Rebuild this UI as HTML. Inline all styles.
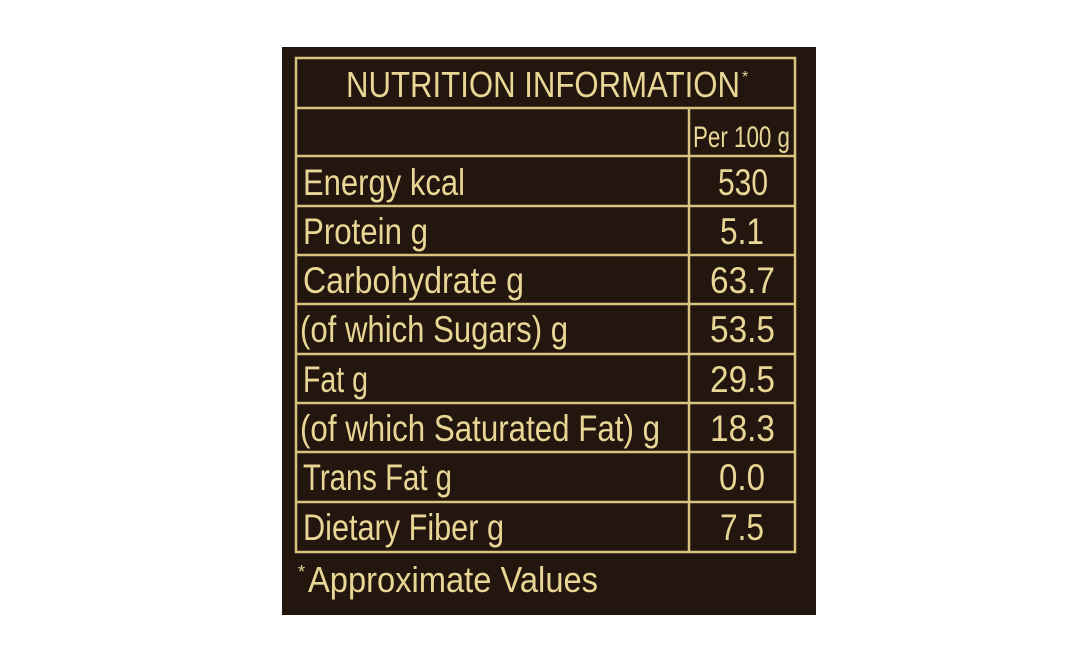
<!DOCTYPE html>
<html><head><style>
html,body{margin:0;padding:0;background:#fff;width:1068px;height:671px;overflow:hidden}
svg{display:block}
text{font-family:"Liberation Sans",sans-serif;fill:#e8d695}
</style></head><body>
<svg width="1068" height="671" viewBox="0 0 1068 671">
<rect x="282" y="47" width="534" height="568" fill="#23160f"/>
<g stroke="#d8c47e" stroke-width="2.5" fill="none">
<rect x="296" y="58" width="499" height="494"/>
<line x1="296" y1="108" x2="795" y2="108"/>
<line x1="296" y1="156" x2="795" y2="156"/>
<line x1="296" y1="206" x2="795" y2="206"/>
<line x1="296" y1="255" x2="795" y2="255"/>
<line x1="296" y1="304" x2="795" y2="304"/>
<line x1="296" y1="354" x2="795" y2="354"/>
<line x1="296" y1="403" x2="795" y2="403"/>
<line x1="296" y1="452" x2="795" y2="452"/>
<line x1="296" y1="502" x2="795" y2="502"/>
<line x1="689" y1="108" x2="689" y2="552"/>
</g>
<text x="346" y="97" font-size="36" textLength="394" lengthAdjust="spacingAndGlyphs">NUTRITION INFORMATION</text>
<text x="742" y="82" font-size="16">*</text>
<text x="693" y="147" font-size="30" textLength="97" lengthAdjust="spacingAndGlyphs">Per 100 g</text>
<g font-size="37">
<text x="303" y="195" textLength="162" lengthAdjust="spacingAndGlyphs">Energy kcal</text>
<text x="303" y="244" textLength="125" lengthAdjust="spacingAndGlyphs">Protein g</text>
<text x="303" y="293" textLength="221" lengthAdjust="spacingAndGlyphs">Carbohydrate g</text>
<text x="300" y="342" textLength="268" lengthAdjust="spacingAndGlyphs">(of which Sugars) g</text>
<text x="303" y="392" textLength="65" lengthAdjust="spacingAndGlyphs">Fat g</text>
<text x="300" y="441" textLength="360" lengthAdjust="spacingAndGlyphs">(of which Saturated Fat) g</text>
<text x="303" y="490" textLength="149" lengthAdjust="spacingAndGlyphs">Trans Fat g</text>
<text x="303" y="540" textLength="201" lengthAdjust="spacingAndGlyphs">Dietary Fiber g</text>
</g>
<g font-size="37">
<text x="718" y="195" textLength="50" lengthAdjust="spacingAndGlyphs">530</text>
<text x="720" y="244" textLength="44" lengthAdjust="spacingAndGlyphs">5.1</text>
<text x="710" y="293" textLength="65" lengthAdjust="spacingAndGlyphs">63.7</text>
<text x="710" y="342" textLength="65" lengthAdjust="spacingAndGlyphs">53.5</text>
<text x="710" y="392" textLength="65" lengthAdjust="spacingAndGlyphs">29.5</text>
<text x="710" y="441" textLength="65" lengthAdjust="spacingAndGlyphs">18.3</text>
<text x="719" y="490" textLength="46" lengthAdjust="spacingAndGlyphs">0.0</text>
<text x="720" y="540" textLength="44" lengthAdjust="spacingAndGlyphs">7.5</text>
</g>
<text x="298" y="578" font-size="18">*</text>
<text x="308" y="592" font-size="36" textLength="290" lengthAdjust="spacingAndGlyphs">Approximate Values</text>
</svg>
</body></html>
